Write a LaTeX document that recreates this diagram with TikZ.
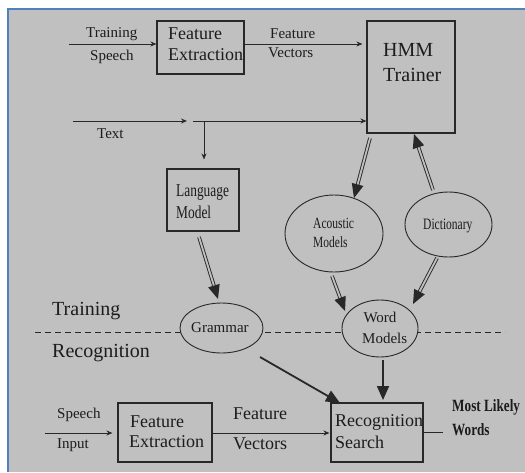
\documentclass[tikz,border=0pt]{standalone}
\usepackage{fontspec}
\setmainfont{Liberation Serif}
\usepackage{graphicx}
\usetikzlibrary{shapes.geometric,arrows.meta,calc}
\definecolor{bggrey}{RGB}{192,192,192}
\definecolor{ln}{RGB}{40,40,40}
\definecolor{ink}{RGB}{28,28,28}
\definecolor{frameblue}{RGB}{79,129,189}
\newcommand{\vst}[2]{\scalebox{1}[#1]{#2}}
\newcommand{\fs}[1]{\fontsize{#1}{#1}\selectfont}
\newcommand{\dblarrow}[2]{%
  \draw[dblline] (#1) -- ($(#2)!11pt!(#1)$);
  \coordinate (tipbase) at ($(#2)!14pt!(#1)$);
  \coordinate (tipl) at ($(tipbase)!6pt!90:(#2)$);
  \coordinate (tipr) at ($(tipbase)!6pt!-90:(#2)$);
  \fill[ln] (#2) -- (tipl) -- (tipr) -- cycle;}
\begin{document}
\begin{tikzpicture}[x=1pt,y=-1pt,
  txt/.style={anchor=base west, inner sep=0pt, text=ink},
  boxnode/.style={draw=ln, line width=1.1pt, rectangle, inner sep=0pt},
  ovalnode/.style={draw=ln, line width=0.9pt, ellipse, inner sep=0pt, fill=bggrey},
  thinarrow/.style={draw=ln, line width=1pt, -{Stealth[length=6pt,width=5pt]}},
  thickarrow/.style={draw=ln, line width=1.8pt, -{Triangle[length=14pt,width=12pt]}},
  dblline/.style={draw=ln, line width=0.9pt, double=bggrey, double distance=1.8pt},
  sepline/.style={draw=ln, line width=1pt, dash pattern=on 6pt off 4pt}
]
\useasboundingbox (0,0) rectangle (525,472);
\fill[white] (0,0) rectangle (525,472);
\fill[bggrey] (8,9) rectangle (525,472);
\draw[frameblue, line width=2pt] (8,472) -- (8,9) -- (525,9);

% separator line
\coordinate (dl) at (35,332);
\coordinate (dr) at (505,332);
\draw[sepline] (dl) -- (dr);

% boxes
\node[boxnode, minimum width=87pt, minimum height=53pt] (fe1) at (200.5,47.5) {};
\node[boxnode, minimum width=88pt, minimum height=112pt] (hmm) at (411,77) {};
\node[boxnode, minimum width=72pt, minimum height=62pt] (lm) at (203,200) {};
\node[boxnode, minimum width=94pt, minimum height=59pt] (fe2) at (165,432.5) {};
\node[boxnode, minimum width=92pt, minimum height=59pt] (rs) at (377,432.5) {};

% ellipses
\node[ovalnode, minimum width=98pt, minimum height=77pt] (ac) at (334,233.5) {};
\node[ovalnode, minimum width=87pt, minimum height=65pt] (dict) at (448.5,224.5) {};
\node[ovalnode, minimum width=83pt, minimum height=50pt] (gram) at (221.5,328) {};
\node[ovalnode, minimum width=76pt, minimum height=57pt] (wm) at (380,328.5) {};

% texts
\node[txt, font=\fs{15}] (t1) at (86,37) {Training};
\node[txt, font=\fs{15}] (t2) at (90,60) {Speech};
\node[txt, font=\fs{18}] (t3) at (168,39) {Feature};
\node[txt, font=\fs{18}] (t4) at (168,60) {Extraction};
\node[txt, font=\fs{15}] (t5) at (270,38) {Feature};
\node[txt, font=\fs{15}] (t6) at (268,57) {Vectors};
\node[txt, font=\fs{20}] (t7) at (383,56) {HMM};
\node[txt, font=\fs{20}] (t8) at (383,81) {Trainer};
\node[txt, font=\fs{15}] (t9) at (97,138) {Text};
\node[txt, font=\fs{13.4}] (t10) at (176,196) {\vst{1.35}{Language}};
\node[txt, font=\fs{13.4}] (t11) at (176,218) {\vst{1.35}{Model}};
\node[txt, font=\fs{11.5}] (t12) at (313,228) {\vst{1.35}{Acoustic}};
\node[txt, font=\fs{11.5}] (t13) at (313,247) {\vst{1.35}{Models}};
\node[txt, font=\fs{11.5}] (t14) at (423,229) {\vst{1.38}{Dictionary}};
\node[txt, font=\fs{20}] (t15) at (52,315) {Training};
\node[txt, font=\fs{20}] (t16) at (52,357) {Recognition};
\node[txt, font=\fs{15}] (t17) at (191,332) {Grammar};
\node[txt, font=\fs{15}, anchor=base] (t18) at (380,322) {Word};
\node[txt, font=\fs{15}] (t19) at (362,343) {Models};
\node[txt, font=\fs{15}] (t20) at (57,418) {Speech};
\node[txt, font=\fs{15}] (t21) at (57,448) {Input};
\node[txt, font=\fs{18}] (t22) at (130,427) {Feature};
\node[txt, font=\fs{18}] (t23) at (129,447) {Extraction};
\node[txt, font=\fs{18}] (t24) at (233,419) {Feature};
\node[txt, font=\fs{18}] (t25) at (233,449) {Vectors};
\node[txt, font=\fs{18}] (t26) at (335,426) {Recognition};
\node[txt, font=\fs{18}] (t27) at (335,448) {Search};
\node[txt, font=\bfseries\fs{13.2}] (t28) at (452,411) {\vst{1.3}{Most Likely}};
\node[txt, font=\bfseries\fs{13.2}] (t29) at (452,435) {\vst{1.3}{Words}};

% thin arrows
\coordinate (ts) at (69,44);
\draw[thinarrow] (ts) -- (fe1.west |- ts);
\draw[thinarrow] (fe1.east |- ts) -- ($(hmm.west |- ts)+(-4,0)$);
\coordinate (tx1) at (73,121);
\coordinate (tx2) at (187,121);
\coordinate (tx3) at (193,121);
\coordinate (tj) at (204,121);
\draw[thinarrow] (tx1) -- (tx2);
\draw[thinarrow] (tx3) -- (hmm.west |- tx3);
\draw[thinarrow] (tj) -- ($(tj |- lm.north)+(0,-9)$);
\coordinate (si) at (45,433);
\draw[thinarrow] (si) -- ($(fe2.west |- si)+(-5,0)$);
\draw[thinarrow] (fe2.east |- si) -- ($(rs.west |- si)+(-1,0)$);
\coordinate (out) at (443,432);
\draw[ln, line width=1pt] (rs.east |- out) -- (out);

% double arrows
\coordinate (d1s) at (199,237);  \coordinate (d1e) at (218,299);
\coordinate (d2s) at (370,138);  \coordinate (d2e) at (354,198);
\coordinate (d3s) at (433,190);  \coordinate (d3e) at (414,134);
\coordinate (d4s) at (332,276);  \coordinate (d4e) at (345,311);
\coordinate (d5s) at (437,258);  \coordinate (d5e) at (413,304);
\dblarrow{d1s}{d1e}
\dblarrow{d2s}{d2e}
\dblarrow{d3s}{d3e}
\dblarrow{d4s}{d4e}
\dblarrow{d5s}{d5e}

% thick arrows
\coordinate (g1) at (260,357);  \coordinate (g2) at (340,403);
\coordinate (w1) at (383,360);  \coordinate (w2) at (383,400);
\draw[thickarrow] (g1) -- (g2);
\draw[thickarrow] (w1) -- (w2);
\end{tikzpicture}
\end{document}
